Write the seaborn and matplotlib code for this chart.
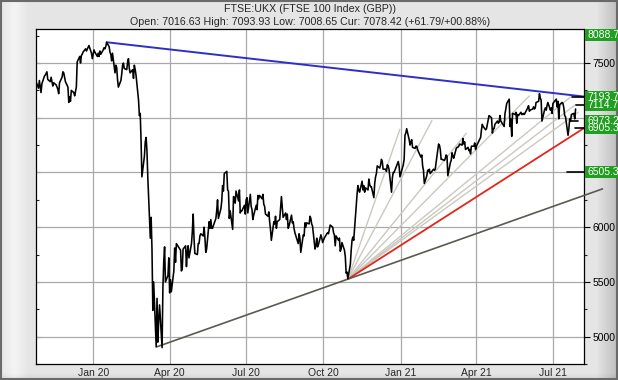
import numpy as np
import pandas as pd
import matplotlib
matplotlib.use("Agg")
import matplotlib.pyplot as plt
import matplotlib.dates as mdates
import matplotlib.transforms as mtransforms
from matplotlib.patches import Rectangle
from matplotlib.ticker import MultipleLocator, FixedLocator
import seaborn as sns

sns.set_style("white")
plt.rcParams["font.family"] = ["Liberation Sans", "DejaVu Sans"]

# ---------------- data ----------------
trade_dates = [
    "2019-10-25", "2019-10-28", "2019-10-29", "2019-10-31",
    "2019-11-01", "2019-11-04", "2019-11-05", "2019-11-07", "2019-11-08", "2019-11-11", "2019-11-12", "2019-11-14", "2019-11-15",
    "2019-11-18", "2019-11-20", "2019-11-21", "2019-11-22", "2019-11-25", "2019-11-26", "2019-11-27", "2019-11-29",
    "2019-12-02", "2019-12-03", "2019-12-04", "2019-12-05", "2019-12-06", "2019-12-09", "2019-12-10", "2019-12-11", "2019-12-12", "2019-12-13",
    "2019-12-16", "2019-12-17", "2019-12-18", "2019-12-19", "2019-12-20", "2019-12-23", "2019-12-24", "2019-12-27", "2019-12-30", "2019-12-31",
    "2020-01-02", "2020-01-03", "2020-01-06", "2020-01-07", "2020-01-08", "2020-01-09", "2020-01-10", "2020-01-13", "2020-01-14", "2020-01-15", "2020-01-16",
    "2020-01-17", "2020-01-20", "2020-01-21", "2020-01-22", "2020-01-23", "2020-01-24", "2020-01-27", "2020-01-28", "2020-01-29", "2020-01-30", "2020-01-31",
    "2020-02-03", "2020-02-04", "2020-02-05", "2020-02-06", "2020-02-07", "2020-02-10", "2020-02-11", "2020-02-12", "2020-02-13", "2020-02-14",
    "2020-02-17", "2020-02-18", "2020-02-19", "2020-02-20", "2020-02-21", "2020-02-24", "2020-02-25", "2020-02-26", "2020-02-27", "2020-02-28",
    "2020-03-02", "2020-03-03", "2020-03-04", "2020-03-05", "2020-03-06", "2020-03-09", "2020-03-10", "2020-03-11", "2020-03-12", "2020-03-13", "2020-03-16",
    "2020-03-17", "2020-03-18", "2020-03-19", "2020-03-20", "2020-03-23", "2020-03-24", "2020-03-25", "2020-03-26", "2020-03-27", "2020-03-30", "2020-03-31",
    "2020-04-01", "2020-04-02", "2020-04-03", "2020-04-06", "2020-04-07", "2020-04-08", "2020-04-09", "2020-04-14", "2020-04-15", "2020-04-16",
    "2020-04-17", "2020-04-20", "2020-04-21", "2020-04-22", "2020-04-23", "2020-04-24", "2020-04-27", "2020-04-28", "2020-04-29", "2020-04-30",
    "2020-05-01", "2020-05-04", "2020-05-05", "2020-05-06", "2020-05-07", "2020-05-08", "2020-05-11", "2020-05-12", "2020-05-13", "2020-05-14",
    "2020-05-15", "2020-05-18", "2020-05-19", "2020-05-20", "2020-05-21", "2020-05-22", "2020-05-26", "2020-05-27", "2020-05-28", "2020-05-29",
    "2020-06-01", "2020-06-02", "2020-06-03", "2020-06-04", "2020-06-05", "2020-06-08", "2020-06-09", "2020-06-10", "2020-06-11", "2020-06-12", "2020-06-15",
    "2020-06-16", "2020-06-17", "2020-06-18", "2020-06-19", "2020-06-22", "2020-06-23", "2020-06-24", "2020-06-25", "2020-06-26", "2020-06-29", "2020-06-30",
    "2020-07-01", "2020-07-02", "2020-07-03", "2020-07-06", "2020-07-07", "2020-07-08", "2020-07-09", "2020-07-10", "2020-07-13", "2020-07-14", "2020-07-15", "2020-07-16",
    "2020-07-17", "2020-07-20", "2020-07-21", "2020-07-22", "2020-07-23", "2020-07-24", "2020-07-27", "2020-07-28", "2020-07-29", "2020-07-30", "2020-07-31",
    "2020-08-03", "2020-08-04", "2020-08-05", "2020-08-06", "2020-08-07", "2020-08-10", "2020-08-11", "2020-08-12", "2020-08-13", "2020-08-14",
    "2020-08-17", "2020-08-18", "2020-08-19", "2020-08-20", "2020-08-21", "2020-08-24", "2020-08-25", "2020-08-26", "2020-08-27", "2020-08-28",
    "2020-09-01", "2020-09-02", "2020-09-03", "2020-09-04", "2020-09-07", "2020-09-08", "2020-09-09", "2020-09-10", "2020-09-11", "2020-09-14", "2020-09-15",
    "2020-09-16", "2020-09-17", "2020-09-18", "2020-09-21", "2020-09-22", "2020-09-23", "2020-09-24", "2020-09-25", "2020-09-28", "2020-09-29", "2020-09-30",
    "2020-10-01", "2020-10-02", "2020-10-05", "2020-10-06", "2020-10-07", "2020-10-08", "2020-10-09", "2020-10-12", "2020-10-13", "2020-10-14", "2020-10-15",
    "2020-10-16", "2020-10-19", "2020-10-20", "2020-10-21", "2020-10-22", "2020-10-23", "2020-10-26", "2020-10-27", "2020-10-28", "2020-10-29", "2020-10-30",
    "2020-11-02", "2020-11-03", "2020-11-04", "2020-11-05", "2020-11-06", "2020-11-09", "2020-11-10", "2020-11-11", "2020-11-12", "2020-11-13", "2020-11-16",
    "2020-11-17", "2020-11-18", "2020-11-19", "2020-11-20", "2020-11-23", "2020-11-24", "2020-11-25", "2020-11-26", "2020-11-27", "2020-11-30",
    "2020-12-01", "2020-12-02", "2020-12-03", "2020-12-04", "2020-12-07", "2020-12-08", "2020-12-09", "2020-12-10", "2020-12-11", "2020-12-14", "2020-12-15",
    "2020-12-16", "2020-12-17", "2020-12-18", "2020-12-21", "2020-12-22", "2020-12-23", "2020-12-24", "2020-12-29", "2020-12-30", "2020-12-31",
    "2021-01-04", "2021-01-05", "2021-01-06", "2021-01-07", "2021-01-08", "2021-01-11", "2021-01-12", "2021-01-13", "2021-01-14", "2021-01-15",
    "2021-01-18", "2021-01-19", "2021-01-20", "2021-01-21", "2021-01-22", "2021-01-25", "2021-01-26", "2021-01-27", "2021-01-28", "2021-01-29",
    "2021-02-01", "2021-02-02", "2021-02-03", "2021-02-04", "2021-02-05", "2021-02-08", "2021-02-09", "2021-02-10", "2021-02-11", "2021-02-12",
    "2021-02-15", "2021-02-16", "2021-02-17", "2021-02-18", "2021-02-19", "2021-02-22", "2021-02-23", "2021-02-24", "2021-02-25", "2021-02-26",
    "2021-03-01", "2021-03-02", "2021-03-03", "2021-03-04", "2021-03-05", "2021-03-08", "2021-03-09", "2021-03-10", "2021-03-11", "2021-03-12", "2021-03-15", "2021-03-16",
    "2021-03-17", "2021-03-18", "2021-03-19", "2021-03-22", "2021-03-23", "2021-03-24", "2021-03-25", "2021-03-26", "2021-03-29", "2021-03-30", "2021-03-31",
    "2021-04-01", "2021-04-06", "2021-04-07", "2021-04-08", "2021-04-09", "2021-04-12", "2021-04-13", "2021-04-14", "2021-04-15", "2021-04-16",
    "2021-04-19", "2021-04-20", "2021-04-21", "2021-04-22", "2021-04-23", "2021-04-26", "2021-04-27", "2021-04-28", "2021-04-29", "2021-04-30",
    "2021-05-04", "2021-05-05", "2021-05-06", "2021-05-07", "2021-05-10", "2021-05-11", "2021-05-12", "2021-05-13", "2021-05-14", "2021-05-17",
    "2021-05-18", "2021-05-19", "2021-05-20", "2021-05-21", "2021-05-24", "2021-05-25", "2021-05-26", "2021-05-27", "2021-05-28",
    "2021-06-01", "2021-06-02", "2021-06-03", "2021-06-04", "2021-06-07", "2021-06-08", "2021-06-09", "2021-06-10", "2021-06-11", "2021-06-14", "2021-06-15",
    "2021-06-16", "2021-06-17", "2021-06-18", "2021-06-21", "2021-06-22", "2021-06-23", "2021-06-24", "2021-06-25", "2021-06-28", "2021-06-29", "2021-06-30",
    "2021-07-01", "2021-07-02", "2021-07-05", "2021-07-06", "2021-07-07", "2021-07-08", "2021-07-09", "2021-07-12", "2021-07-13", "2021-07-14",
    "2021-07-15", "2021-07-16", "2021-07-19", "2021-07-20", "2021-07-21", "2021-07-22", "2021-07-23", "2021-07-26", "2021-07-27", "2021-07-28",
]
close = [
    7330, 7270, 7340, 7230,
    7310, 7380, 7390, 7420, 7350, 7330, 7370, 7290, 7320,
    7300, 7260, 7220, 7320, 7370, 7420, 7410, 7330,
    7280, 7140, 7190, 7150, 7250, 7230, 7200, 7240, 7280, 7510,
    7560, 7500, 7570, 7580, 7600, 7630, 7610, 7660, 7590, 7540,
    7620, 7600, 7560, 7590, 7560, 7610, 7580, 7620, 7640, 7630, 7650,
    7690, 7650, 7600, 7580, 7520, 7590, 7410, 7480, 7460, 7350, 7280,
    7340, 7400, 7480, 7500, 7450, 7440, 7510, 7540, 7450, 7410,
    7440, 7360, 7480, 7440, 7390, 7160, 7020, 7040, 6790, 6460,
    6650, 6780, 6820, 6700, 6460, 5900, 6090, 5800, 5240, 5500, 4910,
    5350, 4950, 5150, 5290, 4900, 5450, 5690, 5820, 5500, 5560, 5720,
    5400, 5520, 5410, 5600, 5810, 5680, 5850, 5790, 5600, 5620,
    5800, 5830, 5640, 5770, 5830, 5720, 5850, 5960, 6120, 5900,
    5760, 5750, 5850, 5850, 5920, 5940, 5920, 6000, 5900, 5770,
    5800, 6050, 5990, 6070, 5990, 5990, 6080, 6150, 6250, 6080,
    6170, 6240, 6380, 6330, 6490, 6510, 6340, 6330, 6080, 6150, 5980,
    6280, 6270, 6220, 6330, 6240, 6340, 6130, 6150, 6150, 6200, 6120,
    6250, 6270, 6130, 6300, 6190, 6160, 6070, 6110, 6200, 6160, 6290, 6260,
    6290, 6260, 6300, 6210, 6190, 6120, 6100, 6140, 6050, 5980, 5880,
    6050, 6030, 6100, 5990, 6050, 6070, 6170, 6280, 6180, 6090,
    6130, 6070, 6120, 5990, 6010, 6110, 6040, 6050, 5990, 5950,
    5850, 5940, 5900, 5770, 5930, 5920, 6040, 6000, 6040, 6030, 6100,
    6080, 6030, 6010, 5800, 5830, 5900, 5820, 5840, 5930, 5900, 5860,
    5880, 5900, 5940, 5950, 5940, 5980, 6020, 6000, 5950, 5930, 5830,
    5920, 5880, 5900, 5780, 5800, 5860, 5790, 5730, 5580, 5590, 5530,
    5660, 5790, 5880, 5910, 5880, 6200, 6300, 6380, 6340, 6320, 6420,
    6340, 6380, 6320, 6360, 6340, 6440, 6390, 6370, 6370, 6270,
    6400, 6460, 6490, 6560, 6540, 6570, 6620, 6600, 6530, 6530, 6510,
    6570, 6560, 6530, 6320, 6450, 6500, 6500, 6600, 6560, 6460,
    6570, 6620, 6840, 6860, 6900, 6800, 6750, 6780, 6800, 6730,
    6720, 6740, 6740, 6710, 6690, 6640, 6660, 6560, 6520, 6400,
    6470, 6520, 6510, 6530, 6490, 6520, 6530, 6520, 6530, 6590,
    6760, 6750, 6710, 6620, 6620, 6610, 6630, 6660, 6650, 6470,
    6590, 6610, 6680, 6650, 6630, 6720, 6730, 6730, 6740, 6760, 6750, 6810,
    6760, 6780, 6710, 6730, 6700, 6710, 6670, 6740, 6740, 6770, 6710,
    6740, 6820, 6890, 6940, 6920, 6890, 6900, 6940, 6980, 7020,
    7000, 6860, 6900, 6900, 6940, 6970, 6950, 6960, 7020, 6970,
    6920, 7040, 7080, 7130, 7170, 6920, 6990, 6830, 7040, 7030,
    7050, 6950, 7030, 7020, 7050, 7030, 7030, 7040, 7030,
    7090, 7110, 7060, 7070, 7080, 7100, 7080, 7090, 7140, 7150, 7220,
    7180, 7160, 6970, 7070, 7090, 7070, 7110, 7140, 7070, 7090, 7040,
    7130, 7140, 7170, 7100, 7150, 6990, 7120, 7140, 7130, 7090,
    7020, 7010, 6840, 6900, 6990, 6970, 7030, 7040, 6990, 7080,
]
assert len(trade_dates) == len(close)

title_line1 = "FTSE:UKX (FTSE 100 Index (GBP))"
title_line2 = "Open: 7016.63 High: 7093.93 Low: 7008.65 Cur: 7078.42 (+61.79/+00.88%)"

x_tick_dates = ["2020-01-01", "2020-04-01", "2020-07-01", "2020-10-01",
                "2021-01-01", "2021-04-01", "2021-07-01"]
x_tick_labels = ["Jan 20", "Apr 20", "Jul 20", "Oct 20", "Jan 21", "Apr 21", "Jul 21"]
y_ticks = [5000, 5500, 6000, 6500, 7000, 7500]
# 6500 and 7000 are hidden behind the green value boxes in the original
y_tick_labels = ["5000", "5500", "6000", "", "", "7500"]

# trend lines (date, value endpoints)
blue_dates, blue_vals = ["2020-01-17", "2021-08-07"], [7690, 7193.7]
support_dates, support_vals = ["2020-03-16", "2021-08-29"], [4905, 6350]
red_dates, red_vals = ["2020-10-30", "2021-08-07"], [5525, 6905.3]
fan_origin_date, fan_origin_val = "2020-10-30", 5525
fan_end_dates = ["2020-12-31", "2021-02-07", "2021-03-20", "2021-06-03",
                 "2021-07-22", "2021-07-28", "2021-07-31"]
fan_end_vals = [6896, 6974, 6859, 7200, 7190, 7120, 7050]

# short level markers at right
marker_vals = [7193.7, 7114.7, 6973.2, 6905.3, 6505.3]
marker_start = ["2021-07-24", "2021-07-28", "2021-07-22", "2021-07-27", "2021-07-18"]
marker_end = ["2021-08-07", "2021-08-07", "2021-07-31", "2021-08-07", "2021-08-07"]

# green value labels
label_texts = ["6505.3", "6905.3", "6973.2", "7114.7", "7193.7", "8088.7"]
label_vals = [6505.3, 6905.3, 6973.2, 7114.7, 7193.7, 8088.7]

# ---------------- figure ----------------
W, H = 618, 380
fig = plt.figure(figsize=(W / 100, H / 100), dpi=100)
fig.patch.set_facecolor("#e4e4e4")

# bevelled frame background
bg_ax = fig.add_axes([0, 0, 1, 1], zorder=-5)
bg = np.full((H, W), 0.895)
xs = np.arange(W)
ys = np.arange(H)
bg -= 0.16 * np.clip((xs - 596) / 22.0, 0, 1)[None, :]
bg += 0.06 * np.clip((14 - np.abs(xs - 14)) / 14.0, 0, 1)[None, :]
bg -= 0.06 * np.clip((ys - 372) / 8.0, 0, 1)[:, None]
bg_ax.imshow(bg, cmap="gray", vmin=0, vmax=1, extent=[0, 1, 0, 1], aspect="auto")
bg_ax.axis("off")
fig.add_artist(Rectangle((0.001, 0.002), 0.997, 0.995, transform=fig.transFigure,
                         fill=False, edgecolor="#6a6a6a", lw=1.5))

L, R, T, B = 36, 584, 29, 364
ax = fig.add_axes([L / W, 1 - B / H, (R - L) / W, (B - T) / H])
ax.set_zorder(2)
ax.set_facecolor("white")

x_dates = pd.to_datetime(trade_dates)
sns.lineplot(x=x_dates, y=close, ax=ax, color="black", lw=1.15, zorder=6, sort=False)
ax.set_xlabel("")
ax.set_ylabel("")

ax.set_xlim(pd.Timestamp("2019-10-25"), pd.Timestamp("2021-08-07"))
ax.set_ylim(4750, 7811)

# grid
tick_dt = pd.to_datetime(x_tick_dates)
ax.xaxis.set_major_locator(FixedLocator(mdates.date2num(tick_dt)))
ax.set_xticklabels(x_tick_labels)
ax.yaxis.set_major_locator(FixedLocator(y_ticks))
ax.set_yticklabels(y_tick_labels)
ax.yaxis.set_minor_locator(MultipleLocator(250))
ax.grid(True, which="major", color="#a9a9a9", lw=0.9)
ax.set_axisbelow(True)

ax.yaxis.tick_right()
ax.tick_params(axis="y", which="major", right=True, left=False, direction="out",
               length=4, width=0.8, pad=2, labelsize=7.5, colors="black")
ax.tick_params(axis="y", which="minor", right=True, left=False, direction="out",
               length=2, width=0.8)
ax.tick_params(axis="x", length=0, pad=3, labelsize=7.5)
for s in ax.spines.values():
    s.set_color("black")
    s.set_linewidth(0.9)

# inward ticks on left spine
sec = ax.secondary_yaxis("left")
sec.yaxis.set_major_locator(FixedLocator(y_ticks))
sec.yaxis.set_minor_locator(MultipleLocator(250))
sec.tick_params(axis="y", which="major", direction="in", length=3, width=0.8, labelleft=False)
sec.tick_params(axis="y", which="minor", direction="in", length=2, width=0.8)
sec.spines["left"].set_visible(False)

# fan lines
for d, v in zip(fan_end_dates, fan_end_vals):
    ax.plot(pd.to_datetime([fan_origin_date, d]), [fan_origin_val, v],
            color="#cbc8bf", lw=1.0, zorder=3)
ax.plot(pd.to_datetime(red_dates), red_vals, color="#e3261b", lw=1.3, zorder=4)
ax.plot(pd.to_datetime(blue_dates), blue_vals, color="#2e2ec8", lw=1.4, zorder=4)
ax.plot(pd.to_datetime(support_dates), support_vals, color="#5a5a50", lw=1.2,
        zorder=4, clip_on=False)

for v, s, e in zip(marker_vals, marker_start, marker_end):
    ax.plot(pd.to_datetime([s, e]), [v, v], color="black", lw=1.2, zorder=7)

# green labels at right
ytop = ax.get_ylim()[1]
blend = mtransforms.blended_transform_factory(fig.transFigure, ax.transData)
box_h = 12 / ((B - T) / (7811 - 4750))
for txt, v in zip(label_texts, label_vals):
    yc = v if v < ytop else 7758
    ax.add_patch(Rectangle((585 / W, yc - box_h / 2), (W - 585) / W, box_h,
                           transform=blend, facecolor="#1f9e1f", edgecolor="none",
                           clip_on=False, zorder=8))
    ax.text(587 / W, yc, txt, transform=blend, color="white", fontsize=7.5,
            va="center", ha="left", clip_on=False, zorder=9)

fig.text(310 / W, 1 - 9.5 / H, title_line1, ha="center", va="center", fontsize=7.7)
fig.text(310 / W, 1 - 22 / H, title_line2, ha="center", va="center", fontsize=7.7)

fig.savefig("out.png", dpi=100, facecolor=fig.get_facecolor())
